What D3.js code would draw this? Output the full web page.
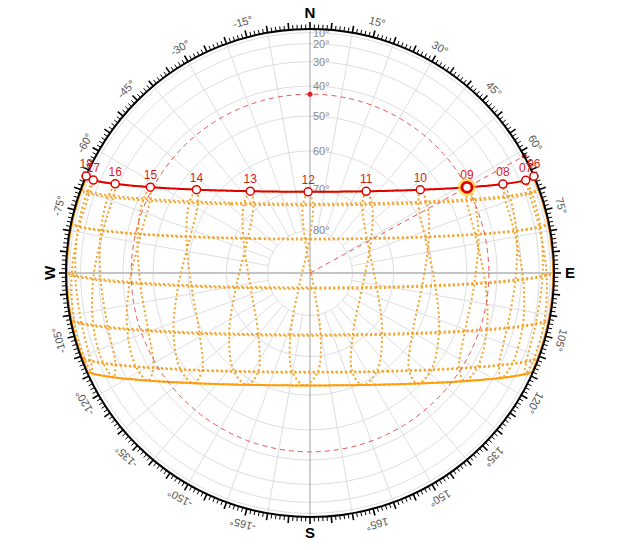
<!DOCTYPE html>
<html>
<head>
<meta charset="utf-8">
<script src="https://cdnjs.cloudflare.com/ajax/libs/d3/7.8.5/d3.min.js"></script>
<style>
body { margin: 0; background: #fff; }
text { font-family: "Liberation Sans", Arial, sans-serif; }
</style>
</head>
<body>
<script>
// site and clock
var latitude = 4.0;
var clockShift = 0.9; // hour angle (deg) between clock noon and solar noon

// 21st of each month: declination (deg) and equation of time (min)
var months = ["Jan", "Feb", "Mar", "Apr", "May", "Jun", "Jul", "Aug", "Sep", "Oct", "Nov", "Dec"];
var declination = [-20.1, -10.6, 0.3, 11.9, 20.1, 23.44, 20.5, 12.1, 0.6, -10.9, -19.9, -23.44];
var eqTime = [-11.1, -13.7, -7.3, 1.2, 3.5, -1.7, -6.3, -3.2, 6.9, 15.3, 14.1, 1.9];

var hours = [6, 7, 8, 9, 10, 11, 12, 13, 14, 15, 16, 17, 18];
var hourLabels = ["06", "07", "08", "09", "10", "11", "12", "13", "14", "15", "16", "17", "18"];

var altRings = [10, 20, 30, 40, 50, 60, 70, 80];
var altLabels = ["10°", "20°", "30°", "40°", "50°", "60°", "70°", "80°"];
var azLabels = [15, 30, 45, 60, 75, 105, 120, 135, 150, 165, -15, -30, -45, -60, -75, -105, -120, -135, -150, -165];
var cardinals = ["N", "E", "S", "W"];
var cardinalAz = [0, 90, 180, -90];

var pathMonth = 5;   // red path
var lowMonth = 11;   // solid orange path
var sunHour = 9;     // highlighted position

var width = 624, height = 550, cx = 310, cy = 273, R = 244;

var svg = d3.select("body").append("svg")
    .attr("width", width)
    .attr("height", height)

var sky = d3.geoOrthographic().scale(R).translate([cx, cy])
    .rotate([0, -latitude]).clipAngle(90).precision(0.1)
var dome = d3.geoOrthographic().scale(R).translate([cx, cy])
    .rotate([0, -90]).clipAngle(90).precision(0.1)
var skyPath = d3.geoPath(sky)
var domePath = d3.geoPath(dome)
var azRad = d3.scaleLinear().domain([0, 360]).range([0, 2 * Math.PI])

function sunPos(hour, m) {
    var ha = 15 * (hour - 12) + clockShift + eqTime[m] / 4;
    return [-ha, declination[m]];
}
function parallel(dec) {
    return { type: "LineString", coordinates: d3.geoCircle().center([0, 90]).radius(90 - dec).precision(1)().coordinates[0] };
}
function polar(az, r) {
    var a = azRad(az);
    return [cx + r * Math.sin(a), cy - r * Math.cos(a)];
}

// grid
var grid = svg.append("g")
grid.selectAll(".ring")
    .data(altRings)
    .enter()
    .append("path")
    .attr("d", function(d) { return domePath(d3.geoCircle().center([0, 90]).radius(90 - d)()) })
    .attr("fill", "none")
    .attr("stroke", "#dedee2")
    .attr("stroke-width", 1)

grid.selectAll(".spoke")
    .data(d3.range(0, 360, 10).filter(function(d) { return d % 90 !== 0 }))
    .enter()
    .append("path")
    .attr("d", function(d) { return domePath({ type: "LineString", coordinates: [[180 - d, 80], [180 - d, 0.05]] }) })
    .attr("fill", "none")
    .attr("stroke", "#dedee2")
    .attr("stroke-width", 1)

grid.append("line")
    .attr("x1", cx - R).attr("x2", cx + R).attr("y1", cy).attr("y2", cy)
    .attr("stroke", "#c4c4c4").attr("stroke-width", 2)
grid.append("line")
    .attr("x1", cx).attr("x2", cx).attr("y1", cy - R).attr("y2", cy + R)
    .attr("stroke", "#a0a0a0").attr("stroke-width", 1)

grid.selectAll(".altlabel")
    .data(altRings)
    .enter()
    .append("text")
    .attr("x", cx + 3)
    .attr("y", function(d) { return dome([180, d])[1] })
    .attr("dy", "0.35em")
    .attr("font-size", 11)
    .attr("fill", "#888")
    .text(function(d, i) { return altLabels[i] })

// monthly paths and hourly analemmas
var dots = svg.append("g")
    .attr("fill", "none")
    .attr("stroke", "#f2a52c")
    .attr("stroke-width", 2)
    .attr("stroke-dasharray", "2,2.6")

dots.selectAll(".date")
    .data(declination)
    .enter()
    .append("path")
    .attr("d", function(d) { return skyPath(parallel(d)) })

var zenith = [0, latitude];
var smooth = d3.line().curve(d3.curveCatmullRomClosed.alpha(0.5))
dots.selectAll(".analemma")
    .data(hours)
    .enter()
    .append("path")
    .attr("d", function(h) {
        var pts = months.map(function(m, i) { return sunPos(h, i) });
        var up = pts.every(function(p) { return d3.geoDistance(p, zenith) < Math.PI / 2 });
        if (up) return smooth(pts.map(sky));
        return skyPath({ type: "LineString", coordinates: pts.concat([pts[0]]) });
    })

// solid boundary: low path plus horizon between the two extreme sunrise/sunset points
var riseJun = Math.acos(Math.sin(declination[pathMonth] * Math.PI / 180) / Math.cos(latitude * Math.PI / 180)) * 180 / Math.PI;
var riseDec = Math.acos(Math.sin(declination[lowMonth] * Math.PI / 180) / Math.cos(latitude * Math.PI / 180)) * 180 / Math.PI;
var edge = svg.append("g")
    .attr("fill", "none")
    .attr("stroke", "#ff9d0a")
    .attr("stroke-width", 2)
edge.append("path").attr("d", skyPath(parallel(declination[lowMonth])))
var horizonArc = d3.arc().innerRadius(R - 1.2).outerRadius(R - 1.2)
edge.selectAll(".harc")
    .data([[riseJun, riseDec], [360 - riseDec, 360 - riseJun]])
    .enter()
    .append("path")
    .attr("transform", "translate(" + cx + "," + cy + ")")
    .attr("stroke-width", 1.3)
    .attr("d", function(d) { return horizonArc({ startAngle: azRad(d[0]), endAngle: azRad(d[1]) }) })

// highlighted sun position
var sp = sky(sunPos(sunHour, pathMonth));
var sr = Math.hypot(sp[0] - cx, sp[1] - cy);
var sAz = Math.atan2(sp[0] - cx, cy - sp[1]) * 180 / Math.PI;
var hEnd = polar(sAz, R);
svg.append("circle")
    .attr("cx", cx).attr("cy", cy).attr("r", sr)
    .attr("fill", "none").attr("stroke", "#e85555").attr("stroke-width", 1)
    .attr("stroke-dasharray", "5,4")
svg.append("line")
    .attr("x1", cx).attr("y1", cy).attr("x2", hEnd[0]).attr("y2", hEnd[1])
    .attr("stroke", "#e85555").attr("stroke-width", 1)
    .attr("stroke-dasharray", "5,4")
svg.append("circle").attr("cx", cx).attr("cy", cy - sr).attr("r", 2.5).attr("fill", "#e02020")
svg.append("circle").attr("cx", hEnd[0]).attr("cy", hEnd[1]).attr("r", 2.5).attr("fill", "#e02020")

// red day path
svg.append("path")
    .attr("d", skyPath(parallel(declination[pathMonth])))
    .attr("fill", "none")
    .attr("stroke", "#e00000")
    .attr("stroke-width", 2)

// outer azimuth scale
var scale = svg.append("g")
scale.append("circle")
    .attr("cx", cx).attr("cy", cy).attr("r", R)
    .attr("fill", "none").attr("stroke", "#000").attr("stroke-width", 2)
scale.selectAll(".tick")
    .data(d3.range(-179, 181))
    .enter()
    .append("line")
    .each(function(d) {
        var major = d % 5 === 0;
        var a = polar(d, R), b = polar(d, R + (major ? 7 : 4.5));
        d3.select(this)
            .attr("x1", a[0]).attr("y1", a[1]).attr("x2", b[0]).attr("y2", b[1])
            .attr("stroke", "#000").attr("stroke-width", major ? 1.6 : 1)
    })
scale.selectAll(".azlabel")
    .data(azLabels)
    .enter()
    .append("text")
    .attr("transform", function(d) { var p = polar(d, 260); return "translate(" + p[0] + "," + p[1] + ") rotate(" + d + ")" })
    .attr("text-anchor", "middle")
    .attr("dy", "0.35em")
    .attr("font-size", 11)
    .attr("fill", "#555")
    .text(function(d) { return d + "°" })
scale.selectAll(".cardinal")
    .data(cardinals)
    .enter()
    .append("text")
    .attr("transform", function(d, i) {
        var p = polar(cardinalAz[i], 260);
        return "translate(" + p[0] + "," + p[1] + ")" + (d === "W" ? " rotate(-90)" : "");
    })
    .attr("text-anchor", "middle")
    .attr("dy", "0.36em")
    .attr("font-size", 15)
    .attr("font-weight", "bold")
    .attr("fill", "#000")
    .text(function(d) { return d })

// hourly points on the red path
var pts = hours.map(function(h) { return sky(sunPos(h, pathMonth)) });
var sunIndex = hours.indexOf(sunHour);
svg.append("circle")
    .attr("cx", pts[sunIndex][0]).attr("cy", pts[sunIndex][1]).attr("r", 9)
    .attr("fill", "#ffd630").attr("opacity", 0.7)
svg.selectAll(".hour")
    .data(pts)
    .enter()
    .append("circle")
    .attr("cx", function(d) { return d[0] })
    .attr("cy", function(d) { return d[1] })
    .attr("r", function(d, i) { return i === sunIndex ? 5 : 4 })
    .attr("fill", "#fff")
    .attr("stroke", "#e00000")
    .attr("stroke-width", function(d, i) { return i === sunIndex ? 2.8 : 1.5 })
svg.selectAll(".hourlabel")
    .data(pts)
    .enter()
    .append("text")
    .attr("x", function(d) { return d[0] })
    .attr("y", function(d) { return d[1] - 8 })
    .attr("text-anchor", "middle")
    .attr("font-size", 12)
    .attr("fill", "#d81b1b")
    .text(function(d, i) { return hourLabels[i] })
</script>
</body>
</html>
